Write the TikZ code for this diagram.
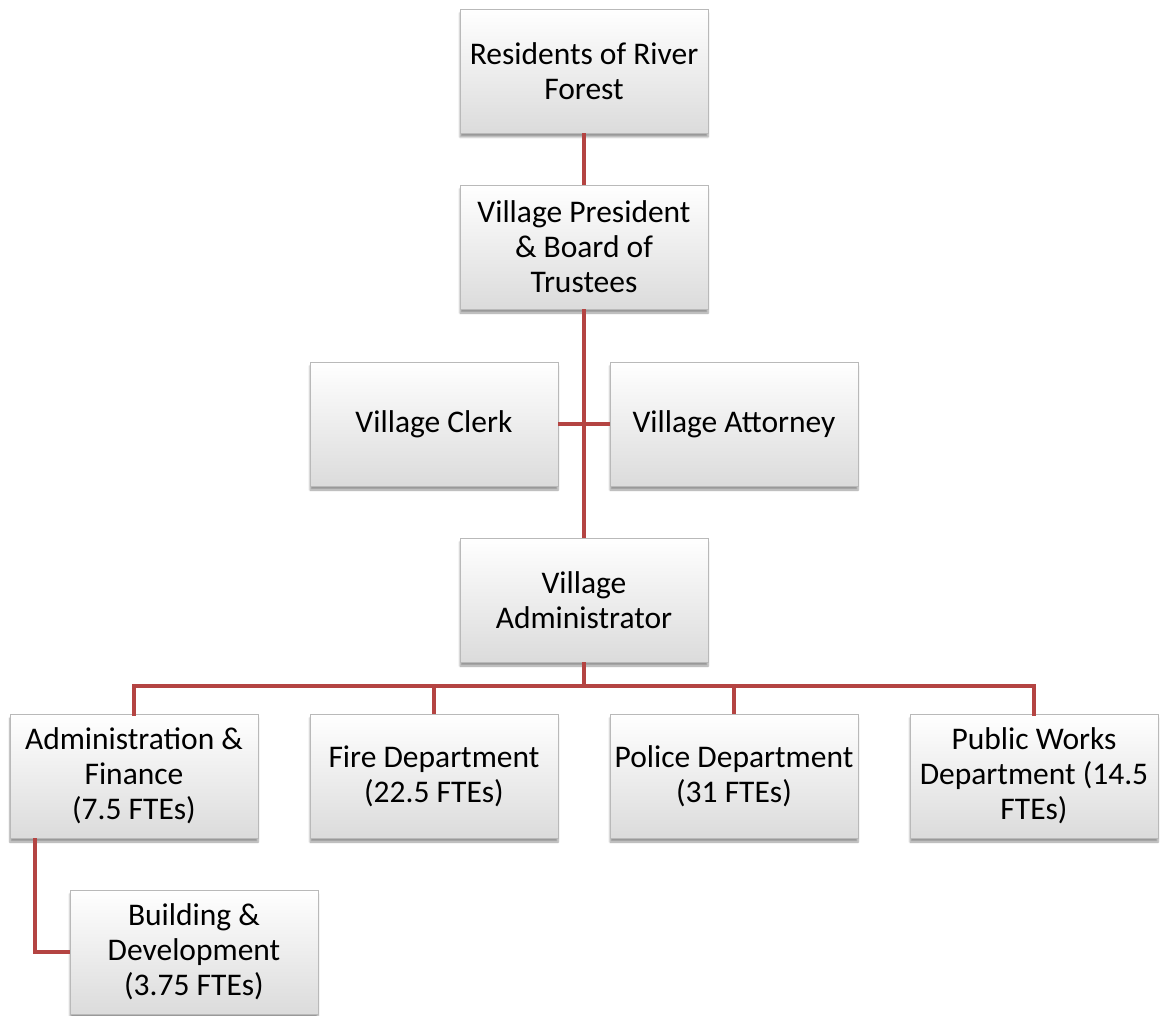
\documentclass[tikz,border=0pt]{standalone}
\usepackage{fontspec}
\setmainfont{Carlito}
\usetikzlibrary{shadows.blur}
\definecolor{conn}{RGB}{180,68,66}
\begin{document}
\begin{tikzpicture}[x=1pt,y=-1pt,
  box/.style={draw=gray!55, line width=0.8pt, minimum width=248pt, minimum height=124pt,
    inner sep=2pt, top color=white, bottom color=gray!28, align=center,
    font=\fontsize{31.5}{35}\selectfont,
    blur shadow={shadow xshift=0pt, shadow yshift=-4pt, shadow blur steps=6, shadow opacity=40}},
  link/.style={draw=conn, line width=4.5pt}]
\useasboundingbox (0,0) rectangle (1160,1016);
\node[box] (res) at (584,71) {Residents of River\\Forest};
\node[box] (pres) at (584,247) {Village President\\\& Board of\\Trustees};
\node[box] (clerk) at (434,424) {Village Clerk};
\node[box] (att) at (734,424) {Village Attorney};
\node[box] (adm) at (584,600) {Village\\Administrator};
\node[box] (fin) at (134,776) {Administration \&\\Finance\\(7.5 FTEs)};
\node[box] (fire) at (434,776) {Fire Department\\(22.5 FTEs)};
\node[box] (pol) at (734,776) {Police Department\\(31 FTEs)};
\node[box] (pw) at (1034,776) {Public Works\\Department (14.5\\FTEs)};
\node[box] (bld) at (194,952) {Building \&\\Development\\(3.75 FTEs)};
\coordinate (bus) at (584,686);
\coordinate (bk) at (35,952);
\draw[link] (res.south) -- (pres.north);
\draw[link] (pres.south) -- (adm.north);
\draw[link] (clerk.east) -- (att.west);
\draw[link, line cap=rect] (fin.north) |- (bus) -| (pw.north);
\draw[link] (fire.north) -- (fire.north |- bus);
\draw[link] (pol.north) -- (pol.north |- bus);
\draw[link] (adm.south) -- (bus);
\draw[link] (fin.south -| bk) |- (bld.west);
\end{tikzpicture}
\end{document}
